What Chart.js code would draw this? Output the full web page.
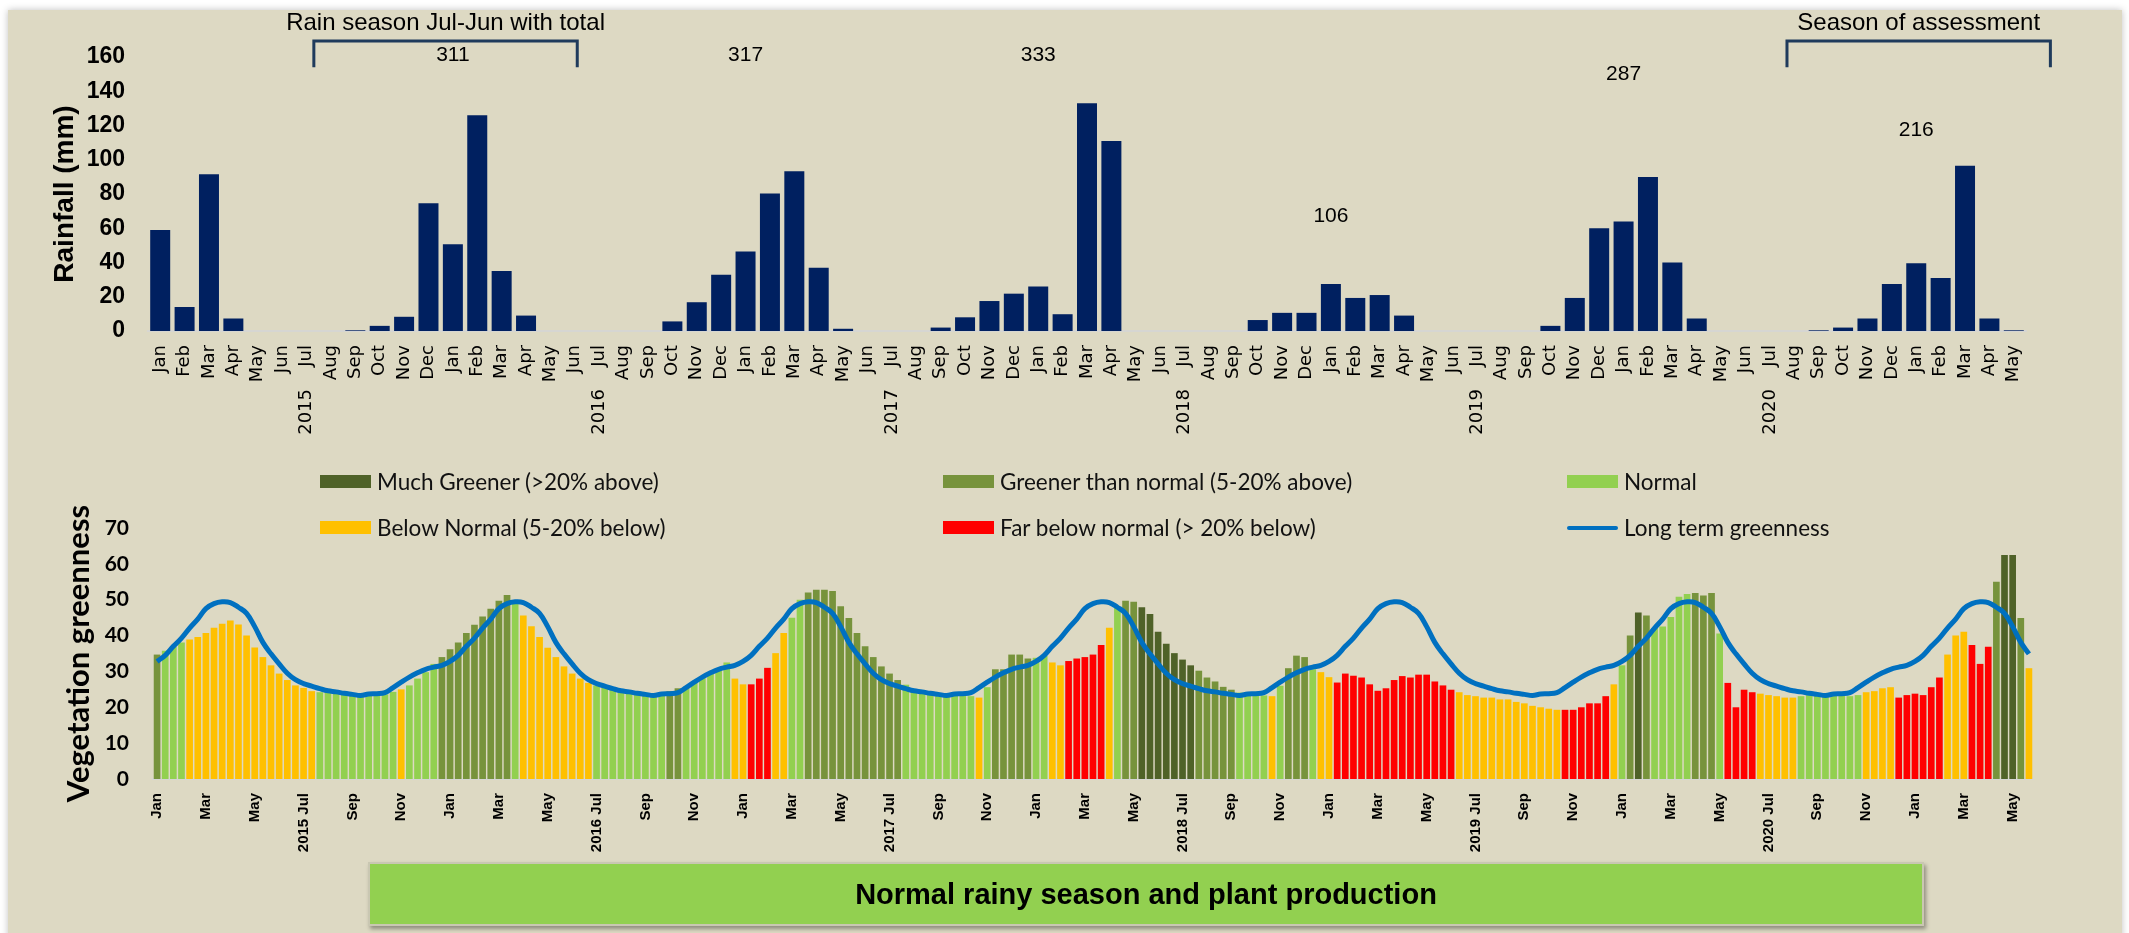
<!DOCTYPE html>
<html>
<head>
<meta charset="utf-8">
<script src="https://cdn.jsdelivr.net/npm/chart.js@4.4.1/dist/chart.umd.min.js"></script>
<style>
  html, body { margin: 0; padding: 0; background: #fff; }
  body { width: 2129px; height: 933px; position: relative; overflow: hidden; font-family: "Liberation Sans", Arial, sans-serif; }
  #frame { position: absolute; left: 8px; top: 10px; width: 2114px; height: 930px; background: #ddd9c3; box-shadow: 0 0 7px rgba(0,0,0,0.25); }
  #rainWrap { position: absolute; left: 0; top: 0; width: 2129px; height: 440px; }
  #vegWrap { position: absolute; left: 0; top: 440px; width: 2129px; height: 440px; }
  .lg { position: absolute; height: 26px; line-height: 26px; font-family: Lato, "Liberation Sans", sans-serif; font-size: 22.5px; color: #111; white-space: nowrap; z-index: 2; }
  .lg .sw { position: absolute; left: 0; top: 6px; width: 51px; height: 13px; }
  .lg .ln { position: absolute; left: 0; top: 11px; width: 51px; height: 4px; border-radius: 2px; }
  .lg .tx { position: absolute; left: 57px; top: 0; }
  #banner { position: absolute; left: 368px; top: 862px; width: 1552px; height: 60px; background: #92d050;
            border: 2px solid #c9c7b2; box-shadow: 2px 3px 4px rgba(0,0,0,0.35);
            font-family: "Liberation Sans", Arial, sans-serif; font-weight: bold; font-size: 29px; color: #000;
            text-align: center; line-height: 60px; }
</style>
</head>
<body>
<div id="frame"></div>
<div id="rainWrap"><canvas id="rainChart"></canvas></div>
<div id="vegWrap"><canvas id="vegChart"></canvas></div>
<div id="legend"></div>
<div id="banner">Normal rainy season and plant production</div>
<script>
// monthly rainfall (mm), Jan 2015 - May 2021
const monthNames = ["Jan","Feb","Mar","Apr","May","Jun","Jul","Aug","Sep","Oct","Nov","Dec"];
const rainYearsList = ["2015","2016","2017","2018","2019","2020","2021"];
const rainfall = [
  59, 14, 91.5, 7.3, 0, 0, 0, 0, 0.4, 3, 8.3, 74.6,
  50.7, 126, 35, 9, 0, 0, 0, 0, 0, 5.6, 16.8, 32.8,
  46.4, 80.3, 93.3, 37, 1.3, 0, 0, 0, 2, 8, 17.5, 21.8,
  26, 9.8, 133, 111, 0, 0, 0, 0, 0, 6.4, 10.6, 10.6,
  27.5, 19.3, 21, 9, 0, 0, 0, 0, 0, 3, 19.3, 60,
  64, 90, 40, 7.3, 0, 0, 0, 0, 0.4, 2, 7.3, 27.5,
  39.5, 31, 96.5, 7.3, 0.4
];
// season totals Jul-Jun, and where each season starts (index of Jul)
const seasonTotals = [311, 317, 333, 106, 287, 216];
const seasonStart = [6, 18, 30, 42, 54, 66];

// dekadal vegetation greenness, Jan 2015 d1 - May 2021 d3
const greenness = [
  34.7, 35.8, 36.9, 38.1, 38.9, 39.6, 40.7, 42.2, 43.3, 44.2, 43.1, 40, 36.7, 34, 31.7, 29.4, 27.6, 26.1,
  25.4, 24.5, 24.2, 24.4, 24, 23.6, 23.2, 23.1, 23.2, 23.6, 23.6, 24.3, 25, 26.1, 28, 29.8, 32.1, 34,
  36.2, 38.1, 40.7, 43, 45.3, 47.5, 49.7, 51.3, 49, 45.6, 42.6, 39.6, 36.6, 34, 31.4, 29.4, 28, 26.8,
  26.1, 25.4, 24.9, 24.5, 24.3, 23.8, 23.6, 23.2, 23.8, 24.5, 25.3, 25.6, 27, 28.1, 29.4, 30.6, 32.5, 28,
  26.4, 26.4, 28, 31, 35.1, 40.7, 45, 50, 52, 52.8, 52.8, 52.4, 48.2, 44.9, 40.7, 37, 34, 31.4,
  29.4, 27.6, 26.3, 24.3, 23.8, 23.5, 23.1, 22.9, 23.3, 23.3, 23.1, 22.7, 25.6, 30.6, 30.6, 34.7, 34.7, 33.6,
  33.8, 34.4, 32.5, 31.7, 32.9, 33.6, 34, 34.7, 37.4, 42.2, 47.9, 49.7, 49.4, 47.9, 46, 41.1, 37.7, 35.1,
  33.3, 31.7, 30.2, 28.3, 27.2, 25.7, 24.9, 24.1, 23.6, 23.3, 23.3, 23.1, 26, 30.9, 34.4, 34, 30.6, 29.8,
  28.4, 26.9, 29.4, 28.8, 28.3, 26.4, 24.6, 25.3, 27.6, 28.7, 28.3, 29.1, 29.1, 27.2, 26.1, 24.9, 24.2, 23.4,
  23.1, 22.7, 22.7, 22.2, 22.2, 21.5, 21.1, 20.4, 20, 19.6, 19.3, 19.3, 19.3, 20, 21.1, 21.1, 23.1, 26.4,
  31.7, 40, 46.4, 45.6, 42.1, 42.5, 45.2, 50.8, 51.6, 51.9, 51.2, 51.9, 40.6, 26.8, 20, 24.9, 24.2, 23.8,
  23.4, 23.1, 22.7, 22.7, 23.1, 23.4, 23.4, 23.8, 23.4, 23.4, 23.1, 23.4, 24.2, 24.5, 25.3, 25.6, 22.7, 23.4,
  23.8, 23.4, 25.6, 28.3, 34.7, 40, 41.1, 37.4, 32.1, 36.9, 55, 62.5, 62.5, 44.9, 30.9
];
// class per dekad: M much greener, G greener, N normal, B below normal, F far below
const greennessClass = (
  "GNNNBBBBBBBBBBBBBB" + "BBNNNNNNNNNNBNNNNG" +
  "GGGGGGGGNBBBBBBBBB" + "NNNNNNNNNGGNNNNNNB" +
  "BFFFBBNNGGGGGGGGGG" + "GGNNNNNNNNNBNGGGGG" +
  "NNBBFFFFFBNGGMMMMM" + "MMGGGGGNNNNBNGGGNB" +
  "BFFFFFFFFFFFFFFFBB" + "BBBBBBBBBBBFFFFFFB" +
  "NGMGNNNNNGGGNFFFFB" + "BBBBNNNNNNNNBBBBFF" +
  "FFFFBBBFFFGMMGB"
).split("");
// long-term greenness by dekad of year (36 dekads), repeated for each year
const longTermDekad = [
  32.8, 34.5, 37.0, 39.3, 42.1, 44.6, 47.5, 48.9, 49.4, 49.2, 47.9, 46.2,
  42.5, 38.1, 34.9, 32.1, 29.5, 27.7, 26.6, 25.9, 25.2, 24.6, 24.3, 23.9,
  23.6, 23.3, 23.7, 23.8, 24.1, 25.5, 27.0, 28.4, 29.6, 30.6, 31.2, 31.7
];
const dekadTickMonths = ["Jan", "Mar", "May", "Jul", "Sep", "Nov"];

const classInfo = {
  M: { label: "Much Greener (>20% above)", color: "#4f6228" },
  G: { label: "Greener than normal (5-20% above)", color: "#77933c" },
  N: { label: "Normal", color: "#92d050" },
  B: { label: "Below Normal (5-20% below)", color: "#ffc000" },
  F: { label: "Far below normal (> 20% below)", color: "#ff0000" }
};
const lineColor = "#0070c0";

// ---- labels
const rainMonths = rainfall.map((v, i) => monthNames[i % 12]);
const rainYears = rainfall.map((v, i) => (i % 12 === 6 ? rainYearsList[Math.floor(i / 12)] : ""));
const dekadLabels = greenness.map((v, i) => {
  if (i % 6 !== 0) return "";
  const m = dekadTickMonths[(i % 36) / 6];
  return m === "Jul" ? rainYearsList[Math.floor(i / 36)] + " Jul" : m;
});
const longTerm = greenness.map((v, i) => longTermDekad[i % 36]);

// ---- top chart annotations
const seasonNotes = {
  id: "seasonNotes",
  afterDatasetsDraw(chart, args, opts) {
    const { ctx, scales: { x, y } } = chart;
    ctx.save();
    ctx.fillStyle = "#000";
    ctx.textAlign = "center";
    ctx.textBaseline = "middle";
    ctx.font = '21px "Liberation Sans", Arial, sans-serif';
    seasonTotals.forEach((t, k) => {
      ctx.fillText(String(t), x.getPixelForValue(seasonStart[k] + 6), y.getPixelForValue(opts.heights[k]));
    });
    ctx.strokeStyle = "#1f3b5c";
    ctx.lineWidth = 3;
    ctx.font = '24px "Liberation Sans", Arial, sans-serif';
    opts.brackets.forEach(b => {
      const x0 = x.getPixelForValue(b.from), x1 = x.getPixelForValue(b.to);
      const yt = y.getPixelForValue(169.3), yb = y.getPixelForValue(154);
      ctx.beginPath();
      ctx.moveTo(x0, yb); ctx.lineTo(x0, yt); ctx.lineTo(x1, yt); ctx.lineTo(x1, yb);
      ctx.stroke();
      ctx.fillText(b.text, (x0 + x1) / 2, y.getPixelForValue(179.6));
    });
    ctx.restore();
  }
};

new Chart(document.getElementById("rainChart"), {
  type: "bar",
  data: {
    labels: rainMonths,
    datasets: [{
      data: rainfall,
      backgroundColor: "#002060",
      barPercentage: 0.82,
      categoryPercentage: 1
    }]
  },
  options: {
    responsive: true,
    maintainAspectRatio: false,
    animation: false,
    layout: { padding: { left: 40, right: 103, top: 57, bottom: 3 } },
    plugins: {
      legend: { display: false },
      tooltip: { enabled: false },
      seasonNotes: {
        heights: [161, 161, 161, 67, 150, 117],
        brackets: [
          { from: 6.3, to: 17.1, text: "Rain season Jul-Jun with total" },
          { from: 66.7, to: 77.5, text: "Season of assessment" }
        ]
      }
    },
    scales: {
      x: {
        offset: true,
        weight: 0,
        grid: { display: false, drawTicks: false },
        border: { color: "#d6d6d2", width: 2 },
        ticks: { autoSkip: false, minRotation: 90, maxRotation: 90, padding: 14, color: "#000",
                 font: { family: "DejaVu Sans", size: 18 } },
        afterFit(s) { s.height = 56; }
      },
      years: {
        type: "category",
        labels: rainYears,
        position: "bottom",
        offset: true,
        weight: 1,
        grid: { display: false, drawTicks: false },
        border: { display: false },
        ticks: { autoSkip: false, minRotation: 90, maxRotation: 90, padding: 2, color: "#000",
                 font: { family: "DejaVu Sans", size: 18 } },
        afterFit(s) { s.height = 50; }
      },
      y: {
        min: 0, max: 160,
        grid: { display: false, drawTicks: false },
        border: { display: false },
        ticks: { stepSize: 20, padding: 23, color: "#000",
                 font: { family: "Liberation Sans", weight: "bold", size: 23 } },
        title: { display: true, text: "Rainfall (mm)", color: "#000", padding: { top: 8, bottom: 0 },
                 font: { family: "Liberation Sans", weight: "bold", size: 28 } },
        afterFit(s) { s.width = 108; }
      }
    }
  },
  plugins: [seasonNotes]
});

// ---- bottom chart
new Chart(document.getElementById("vegChart"), {
  type: "bar",
  data: {
    labels: dekadLabels,
    datasets: [
      {
        type: "line",
        label: "Long term greenness",
        data: longTerm,
        borderColor: lineColor,
        borderWidth: 5,
        pointRadius: 0,
        tension: 0.4,
        order: 0
      },
      {
        type: "bar",
        label: "Vegetation greenness",
        data: greenness,
        backgroundColor: greennessClass.map(c => classInfo[c].color),
        barPercentage: 0.82,
        categoryPercentage: 1,
        order: 1
      }
    ]
  },
  options: {
    responsive: true,
    maintainAspectRatio: false,
    animation: false,
    layout: { padding: { left: 40, right: 96, top: 88, bottom: 6 } },
    plugins: { legend: { display: false }, tooltip: { enabled: false } },
    scales: {
      x: {
        offset: true,
        grid: { display: false, drawTicks: false },
        border: { color: "#d6d6d2", width: 2 },
        ticks: { autoSkip: false, minRotation: 90, maxRotation: 90, padding: 14, color: "#000",
                 font: { family: "Liberation Sans", weight: "bold", size: 15 } },
        afterFit(s) { s.height = 95; }
      },
      y: {
        min: 0, max: 70,
        grid: { display: false, drawTicks: false },
        border: { display: false },
        ticks: { stepSize: 10, padding: 24, color: "#000",
                 font: { family: "Lato", weight: "bold", size: 21 } },
        title: { display: true, text: "Vegetation greenness", color: "#000", padding: { top: 20, bottom: 0 },
                 font: { family: "Lato", weight: "bold", size: 31 } },
        afterFit(s) { s.width = 113; }
      }
    }
  }
});

// ---- legend (3 columns x 2 rows)
const legendItems = [
  { text: classInfo.M.label, color: classInfo.M.color },
  { text: classInfo.G.label, color: classInfo.G.color },
  { text: classInfo.N.label, color: classInfo.N.color },
  { text: classInfo.B.label, color: classInfo.B.color },
  { text: classInfo.F.label, color: classInfo.F.color },
  { text: "Long term greenness", color: lineColor, line: true }
];
const colLeft = [320, 943, 1567];
const rowTop = [469, 515];
const legendBox = document.getElementById("legend");
legendItems.forEach((it, k) => {
  const d = document.createElement("div");
  d.className = "lg";
  d.style.left = colLeft[k % 3] + "px";
  d.style.top = rowTop[Math.floor(k / 3)] + "px";
  const sw = document.createElement("span");
  sw.className = it.line ? "ln" : "sw";
  sw.style.background = it.color;
  const tx = document.createElement("span");
  tx.className = "tx";
  tx.textContent = it.text;
  d.appendChild(sw);
  d.appendChild(tx);
  legendBox.appendChild(d);
});
</script>
</body>
</html>
